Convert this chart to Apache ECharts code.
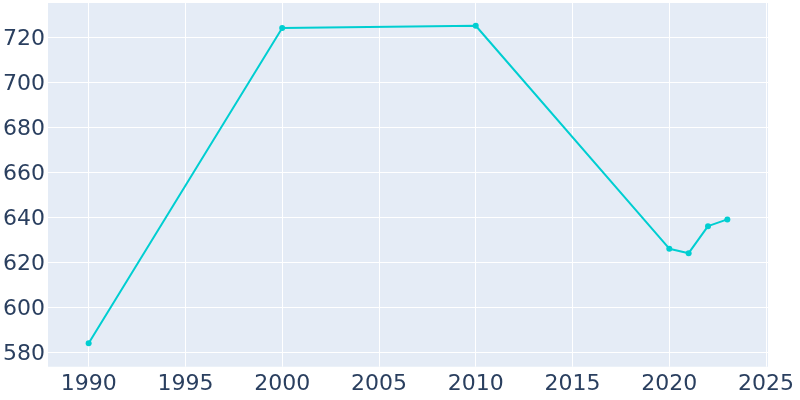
<!DOCTYPE html>
<html>
<head>
<meta charset="utf-8">
<script src="https://cdn.jsdelivr.net/npm/echarts@6/dist/echarts.min.js"></script>
<style>html,body{margin:0;padding:0;background:#fff}#c{width:800px;height:400px}</style>
</head>
<body>
<div id="c"></div>
<script>
const years = [1990, 2000, 2010, 2020, 2021, 2022, 2023];
const population = [584, 724, 725, 626, 624, 636, 639];
const xTicks = [1990, 1995, 2000, 2005, 2010, 2015, 2020, 2025];
const yTicks = [580, 600, 620, 640, 660, 680, 700, 720];

const chart = echarts.init(document.getElementById('c'), null, {renderer: 'canvas'});
const font = 'DejaVu Sans';
chart.setOption({
  animation: false,
  backgroundColor: '#ffffff',
  grid: {left: 48, right: 32, top: 3, bottom: 33.3, show: true, backgroundColor: '#E5ECF6', borderWidth: 0, containLabel: false},
  xAxis: {
    type: 'value', min: 1987.9, max: 2025.1,
    axisLine: {show: false},
    axisTick: {show: false, customValues: xTicks},
    axisLabel: {customValues: xTicks, color: '#2a3f5f', fontSize: 22, fontFamily: font, margin: 7, formatter: v => String(v)},
    splitLine: {show: true, lineStyle: {color: '#ffffff', width: 1}}
  },
  yAxis: {
    type: 'value', min: 573.6, max: 735.1,
    axisLine: {show: false},
    axisTick: {show: false, customValues: yTicks},
    axisLabel: {customValues: yTicks, color: '#2a3f5f', fontSize: 22, fontFamily: font, margin: 3, verticalAlign: 'top', lineHeight: 4, formatter: v => String(v)},
    splitLine: {show: true, lineStyle: {color: '#ffffff', width: 1}}
  },
  series: [{
    type: 'line',
    data: years.map((y, i) => [y, population[i]]),
    symbol: 'circle', symbolSize: 6, showSymbol: true,
    lineStyle: {color: '#00CED1', width: 2},
    itemStyle: {color: '#00CED1'}
  }]
});
</script>
</body>
</html>
